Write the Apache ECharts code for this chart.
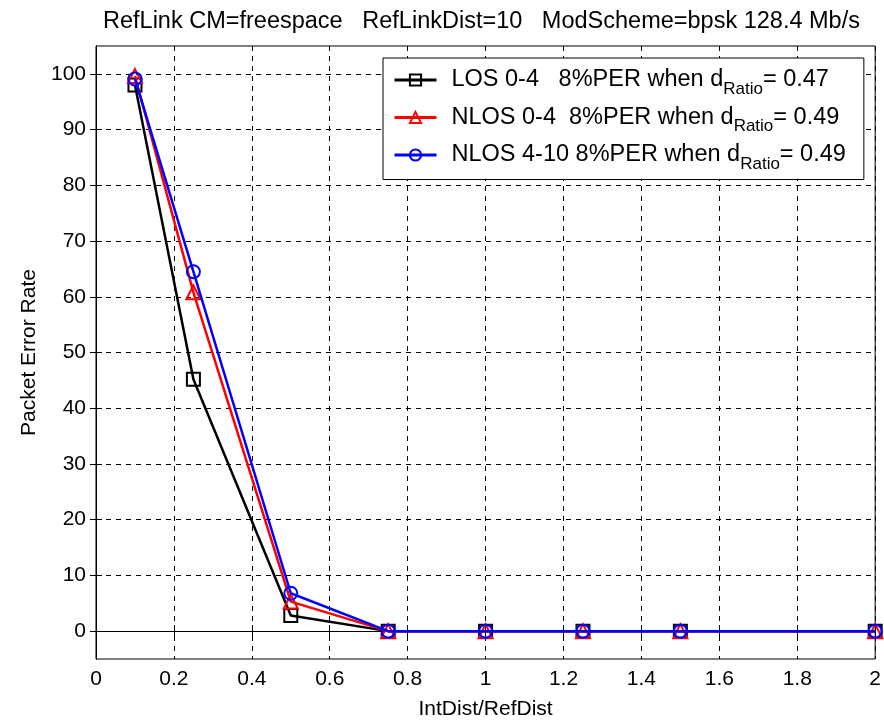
<!DOCTYPE html>
<html><head><meta charset="utf-8">
<script src="https://cdn.jsdelivr.net/npm/echarts@6/dist/echarts.min.js"></script>
<style>html,body{margin:0;padding:0;background:#fff}#c{width:884px;height:725px}</style>
</head><body><div id="c"></div>
<script>
const xValues = [0.1, 0.25, 0.5, 0.75, 1, 1.25, 1.5, 2];
const losPER = [98, 45.2, 2.8, 0, 0, 0, 0, 0];
const nlos04PER = [99.6, 60.8, 5.3, 0, 0, 0, 0, 0];
const nlos410PER = [99.1, 64.5, 6.8, 0, 0, 0, 0, 0];
const yTickValues = [0, 10, 20, 30, 40, 50, 60, 70, 80, 90, 100];
const seriesNames = ['LOS 0-4', 'NLOS 0-4', 'NLOS 4-10'];
const legendPre = ['LOS 0-4   8%PER when d', 'NLOS 0-4  8%PER when d', 'NLOS 4-10 8%PER when d'];
const legendPost = ['= 0.47', '= 0.49', '= 0.49'];
const colors = ['#000000', '#ff0000', '#0000ff'];
const symbols = ['rect', 'triangle', 'circle'];
const symbolSizes = [13, 14, 13];
const allY = [losPER, nlos04PER, nlos410PER];

const FONT = 'Liberation Sans, Arial, sans-serif';
const chart = echarts.init(document.getElementById('c'), null, {renderer: 'canvas'});

const series = seriesNames.map((n, i) => ({
  name: n,
  type: 'line',
  data: xValues.map((x, k) => [x, allY[i][k]]),
  symbol: symbols[i],
  symbolSize: symbolSizes[i],
  clip: false,
  lineStyle: {color: colors[i], width: 2.5},
  itemStyle: {color: 'rgba(0,0,0,0)', borderColor: colors[i], borderWidth: 2},
  emphasis: {disabled: true},
  z: 3 + i
}));

chart.setOption({
  animation: false,
  backgroundColor: '#ffffff',
  title: {
    text: 'RefLink CM=freespace   RefLinkDist=10   ModScheme=bpsk 128.4 Mb/s',
    left: 98, top: 5,
    textStyle: {fontFamily: FONT, fontSize: 23.5, fontWeight: 'normal', color: '#000'}
  },
  grid: {left: 96, right: 7, top: 46, bottom: 63, show: true, borderColor: '#000', borderWidth: 1, backgroundColor: 'transparent'},
  legend: {
    orient: 'vertical',
    left: 383, top: 58,
    padding: [10, 18, 7, 10],
    backgroundColor: '#fff',
    borderColor: '#000',
    borderWidth: 1,
    itemWidth: 42,
    itemHeight: 14,
    itemGap: 8,
    data: seriesNames.map((n, i) => ({name: n, lineStyle: {width: 3, color: colors[i]}})),
    formatter: function (name) {
      const i = seriesNames.indexOf(name);
      return '{p|}{t|' + legendPre[i] + '}{s|Ratio}{t|' + legendPost[i] + '}';
    },
    textStyle: {
      fontFamily: FONT, color: '#000',
      rich: {
        p: {width: 10},
        t: {fontFamily: FONT, fontSize: 23.5, color: '#000'},
        s: {fontFamily: FONT, fontSize: 17, color: '#000', padding: [18, 0, 0, 0]}
      }
    }
  },
  xAxis: [{
    type: 'value', min: 0, max: 2, interval: 0.2,
    name: 'IntDist/RefDist', nameLocation: 'middle', nameGap: 40,
    nameTextStyle: {fontFamily: FONT, fontSize: 21, color: '#000'},
    axisLine: {show: true, lineStyle: {color: '#000', width: 1}},
    axisTick: {show: true, inside: true, length: 6, lineStyle: {color: '#000'}},
    axisLabel: {fontFamily: FONT, fontSize: 21, color: '#000', margin: 10},
    splitLine: {show: true, lineStyle: {color: '#000', width: 1, type: [5, 5]}}
  }, {
    type: 'value', min: 0, max: 2, interval: 0.2, position: 'top',
    axisLine: {show: true, lineStyle: {color: '#000'}},
    axisTick: {show: true, inside: true, length: 6, lineStyle: {color: '#000'}},
    axisLabel: {show: false}, splitLine: {show: false}
  }],
  yAxis: [{
    type: 'value', min: -5, max: 105,
    name: 'Packet Error Rate', nameLocation: 'middle', nameGap: 56,
    nameTextStyle: {fontFamily: FONT, fontSize: 21, color: '#000'},
    axisLine: {show: true, lineStyle: {color: '#000', width: 1}},
    axisTick: {show: true, inside: true, length: 6, customValues: yTickValues, lineStyle: {color: '#000'}},
    axisLabel: {fontFamily: FONT, fontSize: 21, color: '#000', margin: 10, customValues: yTickValues},
    splitLine: {show: true, lineStyle: {color: '#000', width: 1, type: [5, 5]}}
  }, {
    type: 'value', min: -5, max: 105, position: 'right',
    axisLine: {show: true, lineStyle: {color: '#000'}},
    axisTick: {show: true, inside: true, length: 6, customValues: yTickValues, lineStyle: {color: '#000'}},
    axisLabel: {show: false}, splitLine: {show: false}
  }],
  series: series
});
</script></body></html>
